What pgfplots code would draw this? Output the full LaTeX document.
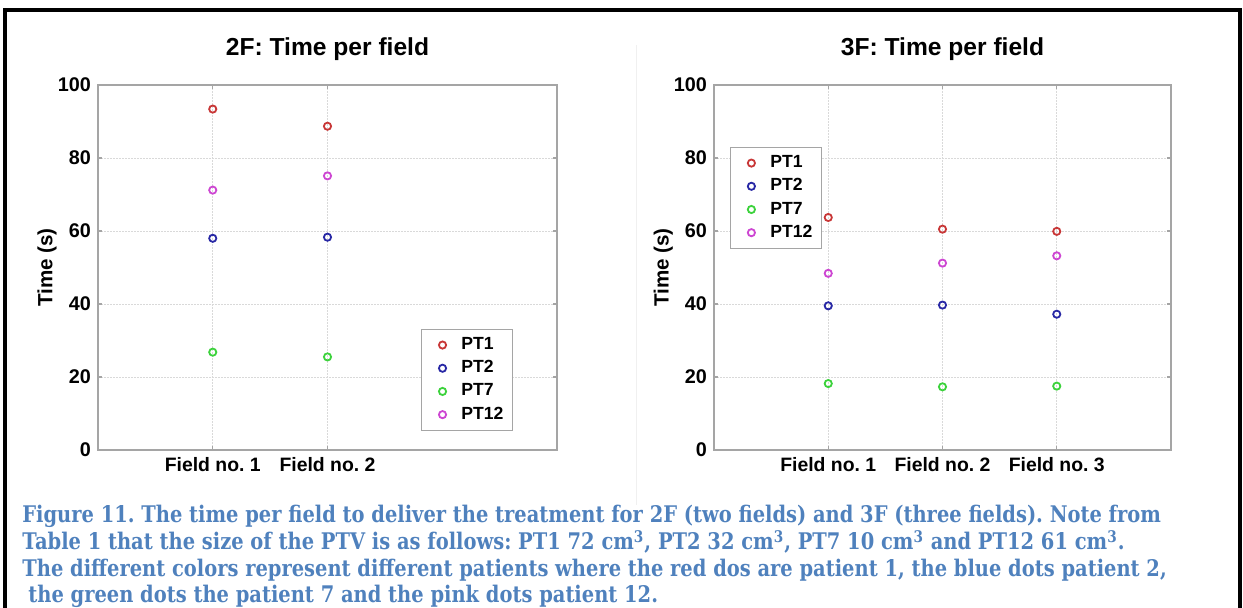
\documentclass[border=0pt]{standalone}
\usepackage{pgfplots}
\pgfplotsset{compat=1.18}
\usepackage{fontspec}
\setmainfont{Liberation Sans}
\newfontfamily\capfont[FakeStretch=0.85]{DejaVu Serif}
\definecolor{cPTa}{RGB}{200,55,55}
\definecolor{cPTb}{RGB}{40,40,165}
\definecolor{cPTg}{RGB}{60,210,60}
\definecolor{cPTm}{RGB}{205,70,210}
\definecolor{capblue}{RGB}{79,129,189}
\definecolor{axgray}{RGB}{165,165,165}
\pgfplotsset{
  fieldax/.style={
    scale only axis, height=182.5pt,
    ymin=0, ymax=100, xmin=0, xmax=4,
    ytick={0,20,40,60,80,100},
    grid=major,
    major grid style={gray!30, dash pattern=on 1pt off 0.5pt, line width=0.4pt},
    axis line style={axgray, line width=0.7pt},
    tick style={axgray, line width=0.6pt},
    tick align=inside, major tick length=2pt,
    /pgf/number format/assume math mode=true,
    yticklabel style={font=\fontsize{9.9}{11}\selectfont\bfseries},
    xticklabel style={font=\fontsize{9.7}{11}\selectfont\bfseries, anchor=base, yshift=-11pt},
    title style={font=\fontsize{12.3}{14}\selectfont\bfseries, at={(axis description cs:0.5,1.0466)}, anchor=base},
    ylabel={Time (s)},
    ylabel style={font=\fontsize{10.3}{12}\selectfont\bfseries, at={(axis description cs:-0.111,0.5)}, anchor=center},
    legend style={font=\fontsize{8.8}{10}\selectfont\bfseries, draw=axgray, line width=0.5pt, fill=white, inner xsep=2.5pt, inner ysep=2pt},
    legend cell align=left,
    legend image code/.code={\path (0pt,0pt) (14.5pt,0pt); \draw[#1] plot coordinates {(7.5pt,0pt)};},
    every axis plot/.append style={only marks, mark=o, mark size=1.8pt, line width=0.9pt},
  }
}
\begin{document}
\frenchspacing
\begin{tikzpicture}
\path[use as bounding box] (0pt,0pt) rectangle (621.5pt,304pt);
% outer frame
\draw[black, line width=2pt] (2.5pt,-2pt) -- (2.5pt,299pt) -- (620pt,299pt) -- (620pt,-2pt);
\draw[black!6, line width=0.5pt] (318pt,51.5pt) -- (318pt,281.5pt);
% left axis
\begin{axis}[fieldax, at={(49pt,79pt)}, anchor=south west, width=229.5pt,
  xtick={1,2}, xticklabels={Field no. 1, Field no. 2},
  title={2F: Time per field},
  legend style={at={(axis description cs:0.704,0.3315)}, anchor=north west}]
\addplot[cPTa] coordinates {(1,93.4) (2,88.7)};
\addlegendentry{PT1}
\addplot[cPTb] coordinates {(1,58.0) (2,58.3)};
\addlegendentry{PT2}
\addplot[cPTg] coordinates {(1,26.8) (2,25.5)};
\addlegendentry{PT7}
\addplot[cPTm] coordinates {(1,71.2) (2,75.1)};
\addlegendentry{PT12}
\end{axis}
% right axis
\begin{axis}[fieldax, at={(357pt,79pt)}, anchor=south west, width=228.5pt,
  xtick={1,2,3}, xticklabels={Field no. 1, Field no. 2, Field no. 3},
  title={3F: Time per field},
  legend style={at={(axis description cs:0.035,0.830)}, anchor=north west}]
\addplot[cPTa] coordinates {(1,63.7) (2,60.5) (3,59.9)};
\addlegendentry{PT1}
\addplot[cPTb] coordinates {(1,39.5) (2,39.7) (3,37.2)};
\addlegendentry{PT2}
\addplot[cPTg] coordinates {(1,18.2) (2,17.3) (3,17.5)};
\addlegendentry{PT7}
\addplot[cPTm] coordinates {(1,48.4) (2,51.2) (3,53.2)};
\addlegendentry{PT12}
\end{axis}
% caption
\begin{scope}[every node/.style={anchor=base west, inner sep=0pt, text=capblue, font=\capfont\bfseries\fontsize{11.45}{13}\selectfont}]
\node at (11pt,42.5pt) {Figure 11. The time per field to deliver the treatment for 2F (two fields) and 3F (three fields). Note from};
\node at (11pt,29pt) {Table 1 that the size of the PTV is as follows: PT1 72 cm\textsuperscript{3}, PT2 32 cm\textsuperscript{3}, PT7 10 cm\textsuperscript{3} and PT12 61 cm\textsuperscript{3}.};
\node at (11pt,15.5pt) {The different colors represent different patients where the red dos are patient 1, the blue dots patient 2,};
\node at (14pt,2.5pt) {the green dots the patient 7 and the pink dots patient 12.};
\end{scope}
\end{tikzpicture}
\end{document}
